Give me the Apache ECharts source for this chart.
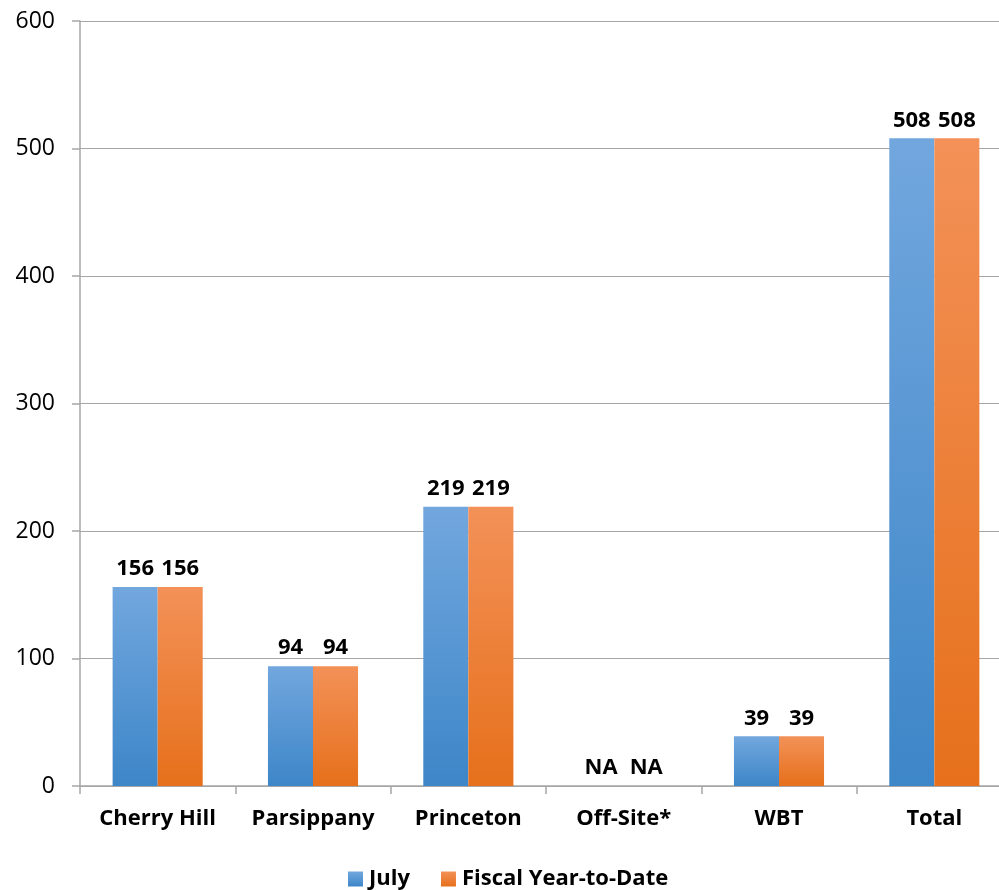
<!DOCTYPE html>
<html><head><meta charset="utf-8">
<script src="https://cdn.jsdelivr.net/npm/echarts@6/dist/echarts.min.js"></script>
<style>html,body{margin:0;padding:0;background:#fff}#c{width:999px;height:890px}</style>
</head><body><div id="c"></div>
<script>
const categories = ['Cherry Hill', 'Parsippany', 'Princeton', 'Off-Site*', 'WBT', 'Total'];
const julyValues = [156, 94, 219, null, 39, 508];
const fytdValues = [156, 94, 219, null, 39, 508];
const seriesNames = ['July', 'Fiscal Year-to-Date'];
const yTicks = [0, 100, 200, 300, 400, 500, 600];

const FONT = '"Open Sans", "Liberation Sans", sans-serif';
function grad(top, bottom) {
  return new echarts.graphic.LinearGradient(0, 0, 0, 1, [{offset: 0, color: top}, {offset: 1, color: bottom}]);
}
function build(vals) {
  return vals.map(v => v === null ? {value: 0, label: {formatter: 'NA'}} : v);
}
const labelStyle = {show: true, position: 'top', distance: 7, color: '#000', fontFamily: FONT, fontWeight: 'bold', fontSize: 22};
const chart = echarts.init(document.getElementById('c'));
chart.setOption({
  animation: false,
  grid: {left: 80, right: -13, top: 21, bottom: 104, containLabel: false, outerBoundsMode: 'none'},
  legend: {
    bottom: -5, left: 343, itemWidth: 15, itemHeight: 15, itemGap: 31,
    icon: 'rect',
    textStyle: {fontFamily: FONT, fontWeight: 'bold', fontSize: 22, color: '#000', padding: [0, 0, 0, 1]},
    data: seriesNames
  },
  xAxis: {
    type: 'category', data: categories,
    axisLine: {lineStyle: {color: '#a6a6a6', width: 1.5}},
    axisTick: {show: true, length: 8, lineStyle: {color: '#a6a6a6', width: 1.5}},
    axisLabel: {color: '#000', fontFamily: FONT, fontWeight: 'bold', fontSize: 22, margin: 22, interval: 0, hideOverlap: false}
  },
  yAxis: {
    type: 'value', min: yTicks[0], max: yTicks[yTicks.length - 1], interval: 100,
    axisLine: {show: true, lineStyle: {color: '#a6a6a6', width: 1.5}},
    axisTick: {show: true, length: 8, lineStyle: {color: '#a6a6a6', width: 1.5}},
    splitLine: {lineStyle: {color: '#a6a6a6', width: 1.2}},
    axisLabel: {color: '#000', fontFamily: FONT, fontSize: 23, margin: 25}
  },
  series: [
    {name: seriesNames[0], type: 'bar', barGap: '0%', barCategoryGap: '42%',
     data: build(julyValues), label: labelStyle,
     itemStyle: {color: grad('#72a7de', '#3d86c8')}},
    {name: seriesNames[1], type: 'bar', barGap: '0%', barCategoryGap: '42%',
     data: build(fytdValues), label: labelStyle,
     itemStyle: {color: grad('#f39158', '#e6701b')}}
  ]
});
</script></body></html>
